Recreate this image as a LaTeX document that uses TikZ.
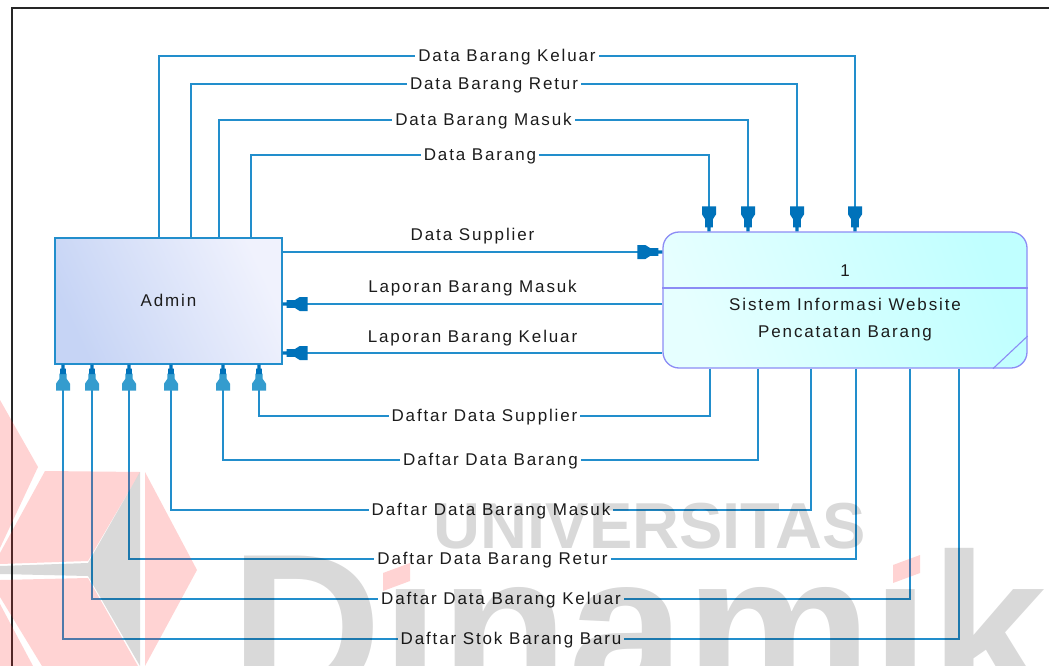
\documentclass[tikz,border=0pt]{standalone}
\usepackage{fontspec}
\setmainfont{Liberation Sans}[LetterSpace=11]
\newfontfamily\wmfont{Liberation Sans}
\usetikzlibrary{arrows.meta}

\definecolor{flowc}{RGB}{34,142,204}
\definecolor{arrowdark}{RGB}{0,114,186}
\definecolor{arrowlight}{RGB}{52,156,206}
\definecolor{procborder}{RGB}{140,140,245}
\definecolor{adminA}{RGB}{198,212,245}
\definecolor{adminB}{RGB}{240,242,253}
\definecolor{procA}{RGB}{230,255,255}
\definecolor{procB}{RGB}{192,255,255}
\definecolor{txtc}{RGB}{28,28,28}

\pgfdeclarearrow{
  name = DFD,
  setup code = {
    \pgfarrowssettipend{0pt}
    \pgfarrowssetlineend{-3pt}
    \pgfarrowssetvisualbackend{-25pt}
    \pgfarrowssetbackend{-25pt}
    \pgfarrowshullpoint{0pt}{1.6pt}
    \pgfarrowshullpoint{0pt}{-1.6pt}
    \pgfarrowshullpoint{-25pt}{7pt}
    \pgfarrowshullpoint{-25pt}{-7pt}
  },
  drawing code = {
    \pgfsetfillcolor{arrowdark}
    \pgfpathmoveto{\pgfqpoint{0pt}{1.6pt}}
    \pgfpathlineto{\pgfqpoint{-4pt}{1.6pt}}
    \pgfpathlineto{\pgfqpoint{-4pt}{3.8pt}}
    \pgfpathlineto{\pgfqpoint{-12pt}{3.8pt}}
    \pgfpathlineto{\pgfqpoint{-17pt}{7pt}}
    \pgfpathlineto{\pgfqpoint{-25pt}{7pt}}
    \pgfpathlineto{\pgfqpoint{-25pt}{-7pt}}
    \pgfpathlineto{\pgfqpoint{-17pt}{-7pt}}
    \pgfpathlineto{\pgfqpoint{-12pt}{-3.8pt}}
    \pgfpathlineto{\pgfqpoint{-4pt}{-3.8pt}}
    \pgfpathlineto{\pgfqpoint{-4pt}{-1.6pt}}
    \pgfpathlineto{\pgfqpoint{0pt}{-1.6pt}}
    \pgfpathclose
    \pgfusepathqfill
  }
}

\pgfdeclarearrow{
  name = DFDB,
  setup code = {
    \pgfarrowssettipend{0pt}
    \pgfarrowssetlineend{-3pt}
    \pgfarrowssetvisualbackend{-26pt}
    \pgfarrowssetbackend{-26pt}
    \pgfarrowshullpoint{0pt}{1.6pt}
    \pgfarrowshullpoint{0pt}{-1.6pt}
    \pgfarrowshullpoint{-26pt}{7pt}
    \pgfarrowshullpoint{-26pt}{-7pt}
  },
  drawing code = {
    \pgfsetfillcolor{arrowlight}
    \pgfpathmoveto{\pgfqpoint{-9pt}{3.6pt}}
    \pgfpathlineto{\pgfqpoint{-14pt}{3.6pt}}
    \pgfpathlineto{\pgfqpoint{-19pt}{7pt}}
    \pgfpathlineto{\pgfqpoint{-26pt}{7pt}}
    \pgfpathlineto{\pgfqpoint{-26pt}{-7pt}}
    \pgfpathlineto{\pgfqpoint{-19pt}{-7pt}}
    \pgfpathlineto{\pgfqpoint{-14pt}{-3.6pt}}
    \pgfpathlineto{\pgfqpoint{-9pt}{-3.6pt}}
    \pgfpathclose
    \pgfusepathqfill
    \pgfsetfillcolor{arrowdark}
    \pgfpathmoveto{\pgfqpoint{0pt}{1.6pt}}
    \pgfpathlineto{\pgfqpoint{-4pt}{1.6pt}}
    \pgfpathlineto{\pgfqpoint{-4pt}{2.8pt}}
    \pgfpathlineto{\pgfqpoint{-9.5pt}{2.8pt}}
    \pgfpathlineto{\pgfqpoint{-9.5pt}{-2.8pt}}
    \pgfpathlineto{\pgfqpoint{-4pt}{-2.8pt}}
    \pgfpathlineto{\pgfqpoint{-4pt}{-1.6pt}}
    \pgfpathlineto{\pgfqpoint{0pt}{-1.6pt}}
    \pgfpathclose
    \pgfusepathqfill
  }
}

\tikzset{
  txt/.style={text=txtc, inner sep=0pt, text height=12.5pt, text depth=1pt},
  lbl/.style={txt, fill=white, inner xsep=3pt, inner ysep=1pt},
  lblup/.style={txt, yshift=17pt},
  flow/.style={draw=flowc, line width=1.6pt, -{DFD}},
  flowb/.style={draw=flowc, line width=1.6pt, -{DFDB}},
  adminbox/.style={draw=flowc, line width=1.4pt, minimum width=227pt, minimum height=126pt,
    left color=adminA, right color=adminB, shading angle=115, txt},
  procbox/.style={draw=procborder, line width=1.3pt, rounded corners=16pt,
    minimum width=364pt, minimum height=136pt, left color=procA, right color=procB, shading angle=110},
}

\begin{document}
\begin{tikzpicture}[x=1pt, y=-1pt, font=\fontsize{17}{27}\selectfont]
\useasboundingbox (0,0) rectangle (1049,666);
\clip (0,0) rectangle (1049,666);
\fill[white] (0,0) rectangle (1049,666);

% frame
\draw[line width=2.2pt, black!85] (12,680) -- (12,8) -- (1060,8);

% entities
\node[adminbox] (admin) at (168.5,301) {Admin};
\node[procbox] (proc) at (845,300) {};
\coordinate (psep) at (845,288);
\coordinate (pc1) at (993,0);
\coordinate (pc2) at (0,336);
\draw[procborder, line width=1.3pt] (proc.west |- psep) -- (proc.east |- psep);
\draw[procborder, line width=1.1pt] (proc.south -| pc1) -- (proc.east |- pc2);
\node[txt] (pnum) at (845,271) {1};
\node[txt] (pname1) at (845,305) {Sistem Informasi Website};
\node[txt] (pname2) at (845,332) {Pencatatan Barang};

% top flows: Admin -> process
\coordinate (ta1) at (159,56);  \coordinate (tb1) at (855,56);
\coordinate (ta2) at (191,84);  \coordinate (tb2) at (797,84);
\coordinate (ta3) at (219,120); \coordinate (tb3) at (748,120);
\coordinate (ta4) at (251,155); \coordinate (tb4) at (709,155);
\draw[flow] (admin.north -| ta1) -- (ta1) -- node[lbl]{Data Barang Keluar} (tb1) -- (proc.north -| tb1);
\draw[flow] (admin.north -| ta2) -- (ta2) -- node[lbl]{Data Barang Retur} (tb2) -- (proc.north -| tb2);
\draw[flow] (admin.north -| ta3) -- (ta3) -- node[lbl]{Data Barang Masuk} (tb3) -- (proc.north -| tb3);
\draw[flow] (admin.north -| ta4) -- (ta4) -- node[lbl]{Data Barang} (tb4) -- (proc.north -| tb4);

% side flows
\coordinate (s1) at (470,252);
\coordinate (s2) at (470,304);
\coordinate (s3) at (470,353);
\draw[flow] (admin.east |- s1) -- node[lblup]{Data Supplier} (proc.west |- s1);
\draw[flow] (proc.west |- s2) -- node[lblup]{Laporan Barang Masuk} (admin.east |- s2);
\draw[flow] (proc.west |- s3) -- node[lblup, yshift=-1pt]{Laporan Barang Keluar} (admin.east |- s3);

% bottom flows: process -> Admin
\coordinate (bc1) at (710,416); \coordinate (bd1) at (259,416);
\coordinate (bc2) at (758,460); \coordinate (bd2) at (223,460);
\coordinate (bc3) at (811,510); \coordinate (bd3) at (171,510);
\coordinate (bc4) at (856,559); \coordinate (bd4) at (129,559);
\coordinate (bc5) at (910,599); \coordinate (bd5) at (92,599);
\coordinate (bc6) at (959,639); \coordinate (bd6) at (63,639);
\draw[flowb] (proc.south -| bc1) -- (bc1) -- node[lbl]{Daftar Data Supplier} (bd1) -- (admin.south -| bd1);
\draw[flowb] (proc.south -| bc2) -- (bc2) -- node[lbl]{Daftar Data Barang} (bd2) -- (admin.south -| bd2);
\draw[flowb] (proc.south -| bc3) -- (bc3) -- node[lbl]{Daftar Data Barang Masuk} (bd3) -- (admin.south -| bd3);
\draw[flowb] (proc.south -| bc4) -- (bc4) -- node[lbl]{Daftar Data Barang Retur} (bd4) -- (admin.south -| bd4);
\draw[flowb] (proc.south -| bc5) -- (bc5) -- node[lbl]{Daftar Data Barang Keluar} (bd5) -- (admin.south -| bd5);
\draw[flowb] (proc.south -| bc6) -- (bc6) -- node[lbl]{Daftar Stok Barang Baru} (bd6) -- (admin.south -| bd6);

% watermark
\begin{scope}[fill opacity=0.2]
  \fill[red!85] (0,400) -- (38,467) -- (0,548) -- cycle;
  \fill[red!85] (45,471) -- (140,472) -- (88,561) -- (0,564) -- (0,553) -- cycle;
  \fill[red!85] (145,472) -- (197,570) -- (145,666) -- cycle;
  \fill[red!85] (0,580) -- (88,578) -- (138,666) -- (42,666) -- (0,597) -- cycle;
  \fill[red!85] (0,604) -- (33,666) -- (0,666) -- cycle;
  \fill[red!85] (383,573) -- (410,563) -- (410,581) -- (383,591) -- cycle;
  \fill[red!85] (893,565) -- (920,555) -- (920,573) -- (893,583) -- cycle;
\end{scope}
\begin{scope}[fill opacity=0.15]
  \fill[black] (140,472) -- (140,666) -- (88,576) -- (0,574) -- (0,566) -- (88,563) -- cycle;
\end{scope}
\node[anchor=base, inner sep=0pt, text=black, text opacity=0.15,
  font=\wmfont\bfseries\fontsize{65}{65}\selectfont] (wm1) at (650,548) {UNIVERSITAS};
\node[anchor=base west, inner sep=0pt, text=black, text opacity=0.15,
  font=\wmfont\bfseries\fontsize{210}{210}\selectfont] (wm2) at (230,700) {D\i nam\i ka};
\end{tikzpicture}
\end{document}
